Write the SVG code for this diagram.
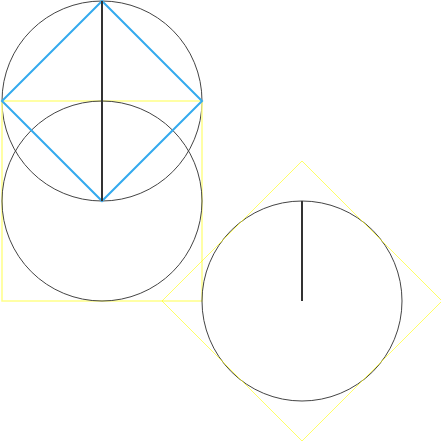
<svg xmlns="http://www.w3.org/2000/svg" width="441" height="441" viewBox="0 0 441 441">
<style>
.c{fill:none;stroke:#444;stroke-width:1}
.r{stroke:#333;stroke-width:2}
</style>
<rect width="441" height="441" fill="#fff"/>
<g id="figure-a">
<circle class="c" cx="102" cy="101" r="100"/>
<rect x="2" y="101" width="200" height="200" fill="none" stroke="#ffff88" stroke-width="1.5"/>
<circle class="c" cx="102" cy="201" r="100"/>
<polygon points="102,1 202,101 102,201 2,101" fill="none" stroke="#33aaee" stroke-width="2"/>
<line class="r" x1="102" y1="1" x2="102" y2="201"/>
</g>
<g id="figure-b">
<circle class="c" cx="302" cy="301" r="100"/>
<polygon points="302,161 442,301 302,441 162,301" fill="none" stroke="#ffff00" stroke-width="0.6"/>
<line class="r" x1="302" y1="201" x2="302" y2="301"/>
</g>
</svg>
